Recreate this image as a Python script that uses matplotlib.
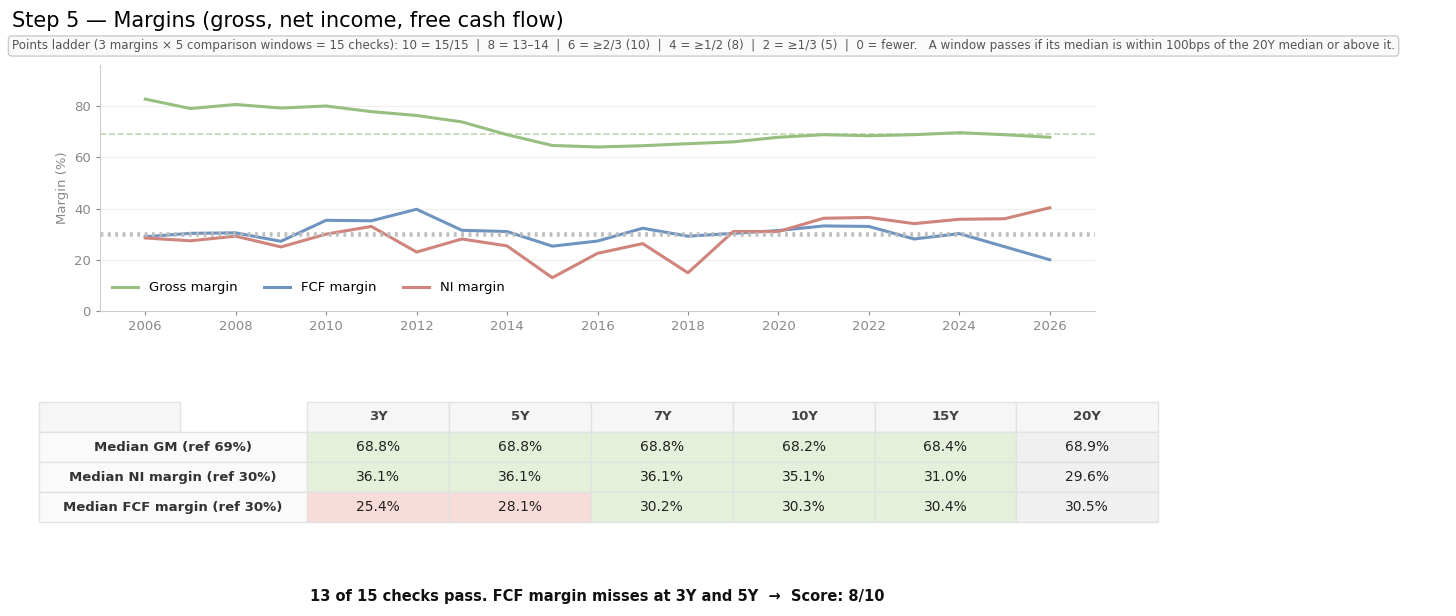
import matplotlib
matplotlib.use("Agg")
import matplotlib.pyplot as plt
from matplotlib.patches import Rectangle

years = list(range(2006, 2027))
gross = [82.7, 79.0, 80.6, 79.2, 80.0, 77.8, 76.3, 73.8, 68.8, 64.6, 64.0, 64.5, 65.3, 66.0, 67.8, 68.8, 68.4, 68.8, 69.6, 68.8, 67.8]
fcf = [29.0, 30.3, 30.5, 27.2, 35.4, 35.2, 39.7, 31.5, 31.0, 25.3, 27.3, 32.3, 29.2, 30.3, 31.4, 33.2, 33.0, 28.1, 30.2, 25.1, 20.0]
ni = [28.5, 27.4, 29.2, 25.0, 30.0, 33.0, 23.0, 28.1, 25.4, 13.0, 22.5, 26.3, 14.9, 31.0, 31.0, 36.2, 36.5, 34.1, 35.8, 36.0, 40.3]
ref_gm, ref_ni, ref_fcf = 68.9, 29.6, 30.5

windows = ["3Y", "5Y", "7Y", "10Y", "15Y", "20Y"]
row_labels = ["Median GM (ref 69%)", "Median NI margin (ref 30%)", "Median FCF margin (ref 30%)"]
cells = [["68.8%", "68.8%", "68.8%", "68.2%", "68.4%", "68.9%"],
         ["36.1%", "36.1%", "36.1%", "35.1%", "31.0%", "29.6%"],
         ["25.4%", "28.1%", "30.2%", "30.3%", "30.4%", "30.5%"]]
passes = [[1, 1, 1, 1, 1], [1, 1, 1, 1, 1], [0, 0, 1, 1, 1]]

G, B, R = "#97bf80", "#6f94c0", "#cf847c"
W, H = 1456, 616
fig = plt.figure(figsize=(W/100, H/100), dpi=100)

ax = fig.add_axes([100/W, 1-311/H, 995/W, 246/H])
ax.plot(years, gross, color=G, lw=2.2, label="Gross margin")
ax.plot(years, fcf, color=B, lw=2.2, label="FCF margin")
ax.plot(years, ni, color=R, lw=2.2, label="NI margin")
ax.axhline(ref_gm, color=G, ls="--", lw=1.2, alpha=0.6)
ax.axhline(ref_ni, color="#bbbbbb", ls=":", lw=2, alpha=0.9)
ax.axhline(ref_fcf, color="#bbbbbb", ls=":", lw=2, alpha=0.9)
ax.set_xlim(2005, 2027)
ax.set_ylim(0, 96)
ax.set_xticks(range(2006, 2027, 2))
ax.set_yticks([0, 20, 40, 60, 80])
ax.grid(axis="y", color="#eeeeee", lw=0.8)
ax.set_axisbelow(True)
for s in ["top", "right"]:
    ax.spines[s].set_visible(False)
for s in ["left", "bottom"]:
    ax.spines[s].set_color("#cccccc")
ax.tick_params(colors="#888888", labelsize=9.5, length=3)
ax.set_ylabel("Margin (%)", color="#888888", fontsize=9.5)
ax.legend(loc="lower left", ncol=3, frameon=False, fontsize=9.5, bbox_to_anchor=(0, 0.02))

fig.text(12/W, 1-21/H, "Step 5 \u2014 Margins (gross, net income, free cash flow)", fontsize=15, va="center")
fig.text(12/W, 1-46/H, "Points ladder (3 margins \u00d7 5 comparison windows = 15 checks): 10 = 15/15  |  8 = 13\u201314  |  6 = \u22652/3 (10)  |  4 = \u22651/2 (8)  |  2 = \u22651/3 (5)  |  0 = fewer.   A window passes if its median is within 100bps of the 20Y median or above it.",
         fontsize=8.6, color="#555555", va="center",
         bbox=dict(boxstyle="round,pad=0.3", fc="#fafafa", ec="#cccccc"))

ov = fig.add_axes([0, 0, 1, 1], zorder=5)
ov.set_xlim(0, W); ov.set_ylim(H, 0); ov.axis("off")
xs = [307, 449, 591, 733, 875, 1016, 1158]
ys = [402, 432, 462, 492, 522]
ec = "#e2e2e2"
ov.add_patch(Rectangle((39, 402), 141, 30, fc="#f6f6f6", ec=ec, lw=1))
for j, w in enumerate(windows):
    ov.add_patch(Rectangle((xs[j], 402), xs[j+1]-xs[j], 30, fc="#f6f6f6", ec=ec, lw=1))
    ov.text((xs[j]+xs[j+1])/2, 417, w, ha="center", va="center", fontsize=9.5, weight="bold", color="#444444")
for i, lab in enumerate(row_labels):
    y0 = ys[i+1]
    ov.add_patch(Rectangle((39, y0), 268, 30, fc="#fafafa", ec=ec, lw=1))
    ov.text(173, y0+15, lab, ha="center", va="center", fontsize=9.5, weight="bold", color="#333333")
    for j in range(6):
        if j == 5:
            fc = "#f0f0f0"
        else:
            fc = "#e4f0da" if passes[i][j] else "#f8dcd9"
        ov.add_patch(Rectangle((xs[j], y0), xs[j+1]-xs[j], 30, fc=fc, ec=ec, lw=1))
        ov.text((xs[j]+xs[j+1])/2, y0+15, cells[i][j], ha="center", va="center", fontsize=10, color="#222222")

ov.text(597, 596, "13 of 15 checks pass. FCF margin misses at 3Y and 5Y  \u2192  Score: 8/10",
        ha="center", va="center", fontsize=10.5, weight="bold", color="#111111")

fig.savefig("out.png", dpi=100)
